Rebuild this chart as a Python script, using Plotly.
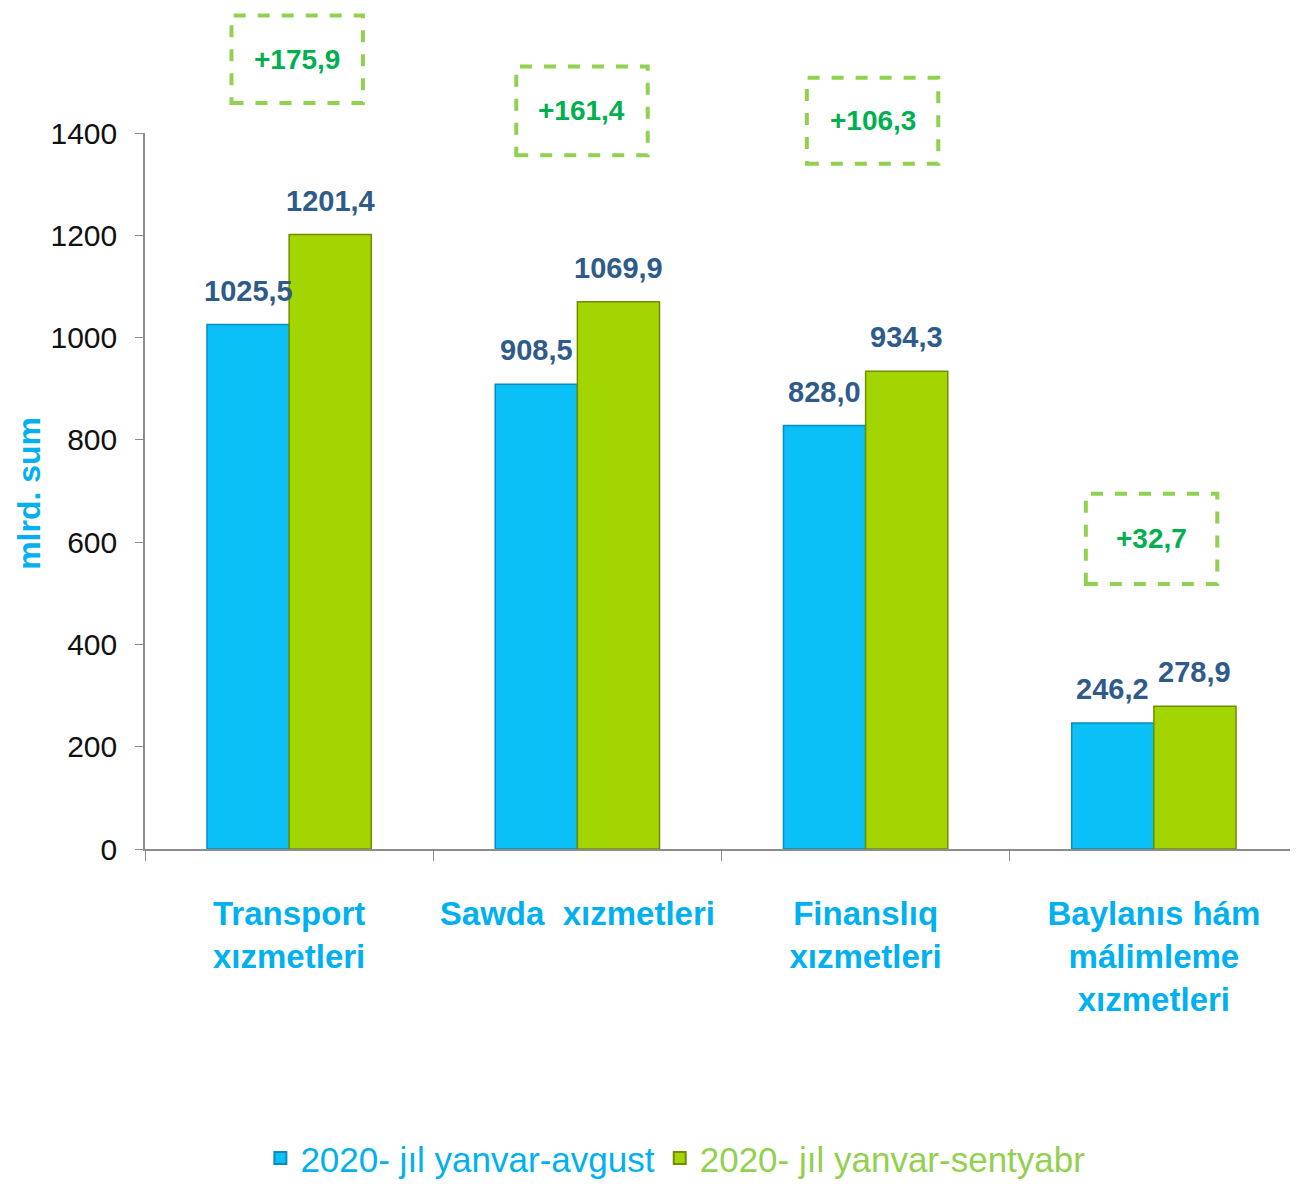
import plotly.graph_objects as go

categories = ["Transport<br>xızmetleri", "Sawda  xızmetleri", "Finanslıq<br>xızmetleri",
              "Baylanıs hám<br>málimleme<br>xızmetleri"]
series_names = ["2020- jıl yanvar-avgust", "2020- jıl yanvar-sentyabr"]
aug_values = [1025.5, 908.5, 828.0, 246.2]
sep_values = [1201.4, 1069.9, 934.3, 278.9]
growth_labels = ["+175,9", "+161,4", "+106,3", "+32,7"]
y_ticks = [0, 200, 400, 600, 800, 1000, 1200, 1400]

FONT = "Liberation Sans, Arial, sans-serif"
BLUE = "#0BBFF7"
GREEN = "#A3D500"
LABEL = "#2F5B8A"
CYAN_TXT = "#00B0F0"
GREEN_TXT = "#92D050"
BOX_TXT = "#00B050"

fig = go.Figure()
fig.add_trace(go.Bar(x=categories, y=aug_values,
                     name=f"<span style='color:{CYAN_TXT}'>{series_names[0]}</span>",
                     marker=dict(color=BLUE, line=dict(color="#0A8CBA", width=1.5))))
fig.add_trace(go.Bar(x=categories, y=sep_values,
                     name=f"<span style='color:{GREEN_TXT}'>{series_names[1]}</span>",
                     marker=dict(color=GREEN, line=dict(color="#6F8F00", width=1.5))))

def fmt(v):
    return f"{v:.1f}".replace(".", ",")

annotations = []
for c, a, s in zip(categories, aug_values, sep_values):
    annotations.append(dict(x=c, y=a, xref="x", yref="y", text=fmt(a), showarrow=False,
                            xshift=-41, yshift=16, yanchor="bottom",
                            font=dict(family=FONT, size=29, color=LABEL, weight="bold")))
    annotations.append(dict(x=c, y=s, xref="x", yref="y", text=fmt(s), showarrow=False,
                            xshift=41, yshift=16, yanchor="bottom",
                            font=dict(family=FONT, size=29, color=LABEL, weight="bold")))

# growth boxes (paper coords): center x, top y, bottom y
box_pos = [(0.132, 1.164, 1.042), (0.379, 1.093, 0.969), (0.631, 1.077, 0.957), (0.873, 0.496, 0.370)]
shapes = []
for (cx, top, bot), lab in zip(box_pos, growth_labels):
    hw = 0.057
    shapes.append(dict(type="rect", xref="paper", yref="paper", x0=cx - hw, x1=cx + hw,
                       y0=bot, y1=top, line=dict(color=GREEN_TXT, width=4, dash="dash"),
                       fillcolor="rgba(0,0,0,0)"))
    annotations.append(dict(x=cx, y=(top + bot) / 2, xref="paper", yref="paper", text=lab,
                            showarrow=False, xanchor="center", yanchor="middle",
                            font=dict(family=FONT, size=28, color=BOX_TXT, weight="bold")))

annotations.append(dict(x=-0.1006, y=0.496, xref="paper", yref="paper", text="mlrd. sum",
                        showarrow=False, textangle=-90, xanchor="center", yanchor="middle",
                        font=dict(family=FONT, size=32, color=CYAN_TXT, weight="bold")))

fig.update_layout(
    width=1298, height=1188,
    margin=dict(l=137, r=8, t=125, b=345),
    paper_bgcolor="white", plot_bgcolor="white",
    barmode="group", bargap=0.43, bargroupgap=0,
    font=dict(family=FONT),
    showlegend=True,
    legend=dict(orientation="h", x=0.46, xanchor="center", y=-0.432, yanchor="middle",
                font=dict(family=FONT, size=35), itemwidth=30, tracegroupgap=0,
                itemsizing="constant"),
    annotations=annotations,
    shapes=shapes,
)
fig.update_xaxes(
    type="category", automargin=False,
    showline=True, linecolor="#8C8C8C", linewidth=1.5,
    ticks="outside", tickson="boundaries", ticklen=10, tickcolor="#8C8C8C",
    tickfont=dict(family=FONT, size=33, color=CYAN_TXT, weight="bold"),
    ticklabelstandoff=35, showgrid=False,
)
fig.update_yaxes(
    range=[0, 1400], tickvals=y_ticks, automargin=False,
    showline=True, linecolor="#8C8C8C", linewidth=1.5,
    ticks="outside", ticklen=8, tickcolor="#8C8C8C", showgrid=False, zeroline=False,
    tickfont=dict(family=FONT, size=30, color="#111111"), ticklabelstandoff=12,
)

fig.write_html("out.html")
